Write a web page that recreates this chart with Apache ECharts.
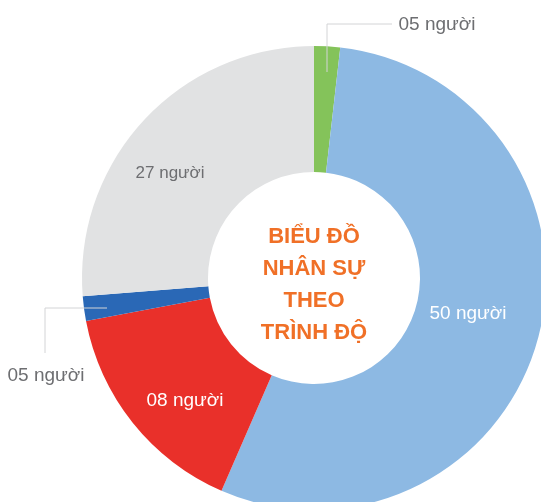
<!DOCTYPE html>
<html>
<head>
<meta charset="utf-8">
<script src="https://cdn.jsdelivr.net/npm/echarts@6/dist/echarts.min.js"></script>
<style>
  html, body { margin: 0; padding: 0; background: #fff; }
  #main { width: 541px; height: 502px; }
</style>
</head>
<body>
<div id="main"></div>
<script>
// counts printed on the chart (labels)
var labels = ['05 người', '50 người', '08 người', '05 người', '27 người'];
// slice sizes as drawn in the picture (degrees of the ring)
var sliceSizes = [6.5, 197, 55.8, 6.2, 94.5];
var colors = ['#84c35a', '#8db9e3', '#e9302a', '#2a68b6', '#e1e2e3'];
var labelColors = ['#6d6e71', '#ffffff', '#ffffff', '#6d6e71', '#6d6e71'];
var labelSizes = [19, 19, 19, 19, 17];
var centerTitle = 'BIỂU ĐỒ\nNHÂN SỰ\nTHEO\nTRÌNH ĐỘ';

var chartDom = document.getElementById('main');
var myChart = echarts.init(chartDom);
var option;

var dataArr = sliceSizes.map(function (v, i) {
    return {
        value: v,
        name: labels[i],
        itemStyle: { color: colors[i] },
        label: { color: labelColors[i], fontSize: labelSizes[i] }
    };
});

// where each label sits
var labelSpots = [
    { x: 437, y: 25, line: [[327, 72], [327, 24], [392, 24]] },
    { x: 468, y: 314 },
    { x: 185, y: 401 },
    { x: 46, y: 376, line: [[107, 308], [45, 308], [45, 353]] },
    { x: 170, y: 173 }
];

var labelFont = '"Liberation Sans", Arial, sans-serif';

option = {
    backgroundColor: '#ffffff',
    animation: false,
    graphic: [
        {
            type: 'text',
            x: 314,
            y: 285,
            z: 100,
            style: {
                text: centerTitle,
                fill: '#f07027',
                font: 'bold 22px "Liberation Sans", Arial, sans-serif',
                lineHeight: 32,
                align: 'center',
                verticalAlign: 'middle'
            }
        }
    ],
    series: [
        {
            name: 'Nhân sự',
            type: 'pie',
            radius: [106, 232],
            center: [314, 278],
            startAngle: 90,
            clockwise: true,
            itemStyle: { borderWidth: 0 },
            label: { show: false },
            labelLine: { show: false },
            data: dataArr
        },
        {
            // same ring, transparent, only to carry the labels and guide lines on top
            name: 'nhãn',
            type: 'pie',
            z: 5,
            silent: true,
            radius: [106, 232],
            center: [314, 278],
            startAngle: 90,
            clockwise: true,
            avoidLabelOverlap: false,
            itemStyle: { color: 'rgba(0,0,0,0)', borderWidth: 0 },
            label: {
                show: true,
                position: 'outside',
                fontFamily: labelFont,
                fontSize: 19,
                formatter: '{b}'
            },
            labelLine: {
                show: true,
                lineStyle: { color: '#d3d4d6', width: 1 }
            },
            labelLayout: function (params) {
                var s = labelSpots[params.dataIndex];
                var out = { x: s.x, y: s.y, align: 'center', verticalAlign: 'middle' };
                out.labelLinePoints = s.line ? s.line : [[s.x, s.y], [s.x, s.y], [s.x, s.y]];
                return out;
            },
            data: sliceSizes.map(function (v, i) {
                return {
                    value: v,
                    name: labels[i],
                    label: { color: labelColors[i], fontSize: labelSizes[i] }
                };
            })
        }
    ]
};

option && myChart.setOption(option);
</script>
</body>
</html>
